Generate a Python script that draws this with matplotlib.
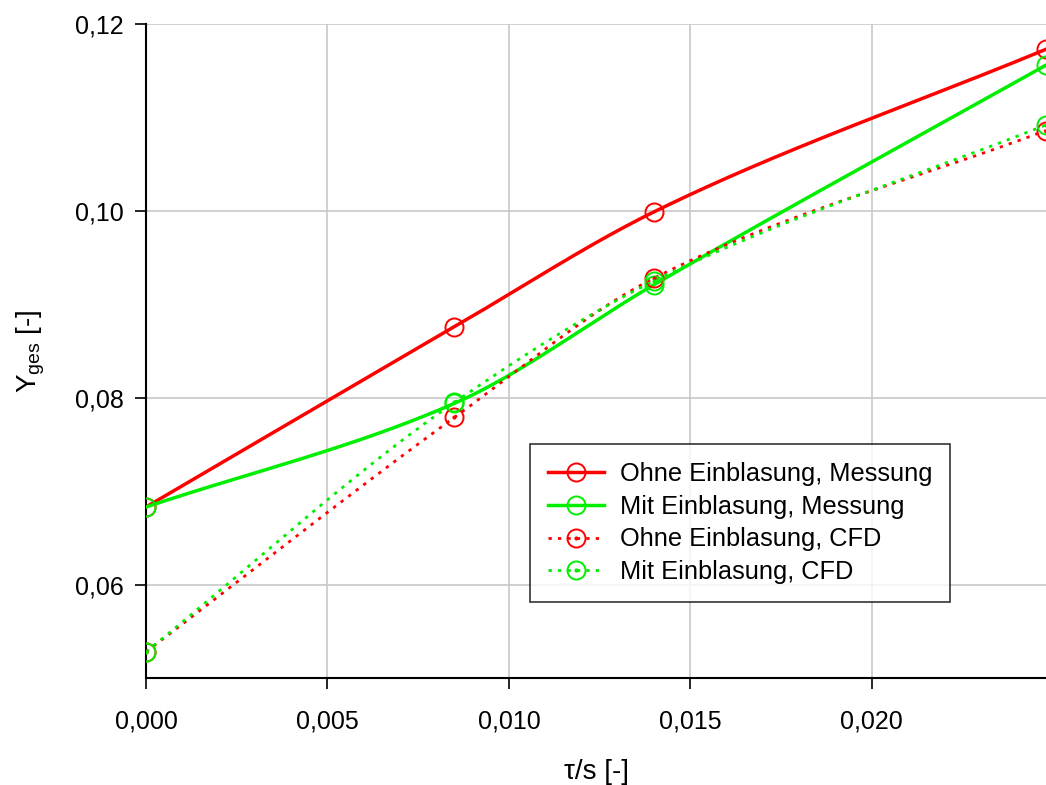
import numpy as np
import matplotlib
matplotlib.use("Agg")
import matplotlib.pyplot as plt
from matplotlib.ticker import FuncFormatter, MultipleLocator

plt.rcParams['font.family'] = ['Liberation Sans', 'DejaVu Sans']

# data
tau = [0.0, 0.0085, 0.014, 0.0248]
ohne_mess = [0.0683, 0.0876, 0.0999, 0.1173]
mit_mess = [0.0683, 0.0794, 0.0921, 0.1156]
ohne_cfd = [0.0528, 0.0779, 0.0928, 0.1086]
mit_cfd = [0.0528, 0.0795, 0.0925, 0.1092]

labels = ["Ohne Einblasung, Messung", "Mit Einblasung, Messung",
          "Ohne Einblasung, CFD", "Mit Einblasung, CFD"]


def smooth(x, y, n=300):
    # monotone cubic (pchip) through the points, only for drawing the curve
    x = np.asarray(x, float)
    y = np.asarray(y, float)
    h = np.diff(x)
    d = np.diff(y) / h
    k = len(x)
    m = np.zeros(k)
    for i in range(1, k - 1):
        if d[i - 1] * d[i] > 0:
            w1 = 2 * h[i] + h[i - 1]
            w2 = h[i] + 2 * h[i - 1]
            m[i] = (w1 + w2) / (w1 / d[i - 1] + w2 / d[i])
    m[0] = d[0]
    m[-1] = d[-1]
    xs = np.linspace(x[0], x[-1], n)
    idx = np.clip(np.searchsorted(x, xs) - 1, 0, k - 2)
    hh = h[idx]
    t = (xs - x[idx]) / hh
    h00 = 2 * t**3 - 3 * t**2 + 1
    h10 = t**3 - 2 * t**2 + t
    h01 = -2 * t**3 + 3 * t**2
    h11 = t**3 - t**2
    ys = h00 * y[idx] + h10 * hh * m[idx] + h01 * y[idx + 1] + h11 * hh * m[idx + 1]
    return xs, ys


fig = plt.figure(figsize=(10.46, 7.85), dpi=100)
ax = fig.add_axes([0.1396, 0.1363, 0.8604, 0.8331])

red = '#ff0000'
green = '#00ee00'
series = [
    (ohne_mess, red, '-'),
    (mit_mess, green, '-'),
    (ohne_cfd, red, ':'),
    (mit_cfd, green, ':'),
]

handles = []
for (vals, col, ls), lab in zip(series, labels):
    xs, ys = smooth(tau, vals)
    if ls == '-':
        style, lw = '-', 2.5
    else:
        style, lw = (0, (1.2, 2.2)), 2.0
    ax.plot(xs, ys, color=col, lw=lw, ls=style, zorder=3)
    ax.plot(tau, vals, 'o', ms=13, mfc='none', mec=col, mew=1.4, zorder=4)
    h, = ax.plot([], [], color=col, lw=lw, ls=style, marker='o', ms=13,
                 mfc='none', mec=col, mew=1.4)
    if ls == ':':
        ax.plot(tau, vals, '.', ms=4, color=col, zorder=4)
        dot, = ax.plot([], [], '.', ms=4, color=col)
        handles.append((h, dot))
    else:
        handles.append(h)

ax.set_xlim(0, 0.0248)
ax.set_ylim(0.05, 0.12)
ax.xaxis.set_major_locator(MultipleLocator(0.005))
ax.set_yticks([0.06, 0.08, 0.10, 0.12])
ax.xaxis.set_major_formatter(FuncFormatter(lambda v, p: f"{v:.3f}".replace('.', ',')))
ax.yaxis.set_major_formatter(FuncFormatter(lambda v, p: f"{v:.2f}".replace('.', ',')))
ax.tick_params(direction='out', length=8, width=1.2, labelsize=18)
ax.tick_params(axis='x', pad=15)
ax.tick_params(axis='y', pad=8)

ax.grid(True, color='#c8c8c8', lw=1.2)
ax.set_axisbelow(True)
ax.spines['top'].set_visible(False)
ax.spines['right'].set_visible(False)
ax.spines['left'].set_linewidth(1.5)
ax.spines['bottom'].set_linewidth(1.5)

ax.set_xlabel("τ/s [-]", fontsize=20, labelpad=18)
ax.set_ylabel(r"Y$_{\mathregular{ges}}$ [-]", fontsize=20, labelpad=20)

leg = ax.legend(handles, labels, loc='upper left', bbox_to_anchor=(0.4267, 0.358),
                fontsize=18.3, frameon=True, fancybox=False, edgecolor='black',
                handlelength=2.2, borderpad=0.72, labelspacing=0.34, handletextpad=0.6,
                borderaxespad=0)
leg.get_frame().set_linewidth(1.2)

fig.savefig("out.png", dpi=100)
